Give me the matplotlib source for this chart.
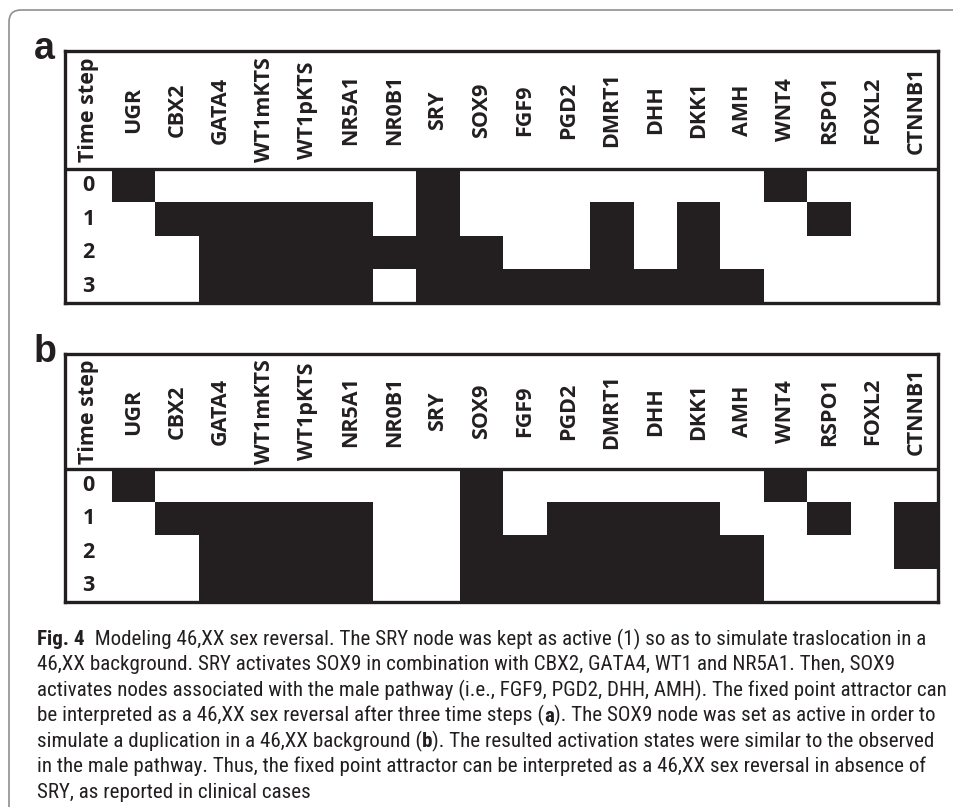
import numpy as np
import matplotlib
matplotlib.use("Agg")
import matplotlib.pyplot as plt
from matplotlib import font_manager
from matplotlib.font_manager import FontProperties
from matplotlib.colors import ListedColormap
from matplotlib.patches import FancyBboxPatch

W, H = 954, 807

genes = ["UGR", "CBX2", "GATA4", "WT1mKTS", "WT1pKTS", "NR5A1", "NR0B1", "SRY",
         "SOX9", "FGF9", "PGD2", "DMRT1", "DHH", "DKK1", "AMH", "WNT4", "RSPO1",
         "FOXL2", "CTNNB1"]
steps = ["0", "1", "2", "3"]

# node states per time step (1 = active), SRY kept active
states_sry = [
    [1, 0, 0, 0, 0, 0, 0, 1, 0, 0, 0, 0, 0, 0, 0, 1, 0, 0, 0],
    [0, 1, 1, 1, 1, 1, 0, 1, 0, 0, 0, 1, 0, 1, 0, 0, 1, 0, 0],
    [0, 0, 1, 1, 1, 1, 1, 1, 1, 0, 0, 1, 0, 1, 0, 0, 0, 0, 0],
    [0, 0, 1, 1, 1, 1, 0, 1, 1, 1, 1, 1, 1, 1, 1, 0, 0, 0, 0],
]
# SOX9 duplication
states_sox9 = [
    [1, 0, 0, 0, 0, 0, 0, 0, 1, 0, 0, 0, 0, 0, 0, 1, 0, 0, 0],
    [0, 1, 1, 1, 1, 1, 0, 0, 1, 0, 1, 1, 1, 1, 0, 0, 1, 0, 1],
    [0, 0, 1, 1, 1, 1, 0, 0, 1, 1, 1, 1, 1, 1, 1, 0, 0, 0, 1],
    [0, 0, 1, 1, 1, 1, 0, 0, 1, 1, 1, 1, 1, 1, 1, 0, 0, 0, 0],
]

caption = [
    [("Fig. 4", True), ("  Modeling 46,XX sex reversal. The SRY node was kept as active (1) so as to simulate traslocation in a", False)],
    [("46,XX background. SRY activates SOX9 in combination with CBX2, GATA4, WT1 and NR5A1. Then, SOX9", False)],
    [("activates nodes associated with the male pathway (i.e., FGF9, PGD2, DHH, AMH). The fixed point attractor can", False)],
    [("be interpreted as a 46,XX sex reversal after three time steps (", False), ("a", True),
     ("). The SOX9 node was set as active in order to", False)],
    [("simulate a duplication in a 46,XX background (", False), ("b", True),
     ("). The resulted activation states were similar to the observed", False)],
    [("in the male pathway. Thus, the fixed point attractor can be interpreted as a 46,XX sex reversal in absence of", False)],
    [("SRY, as reported in clinical cases", False)],
]

ink = "#231f20"
head_font = "Open Sans"


def weight_num(w):
    if isinstance(w, str):
        return font_manager.weight_dict.get(w, 400)
    return w


def narrow_face(bold):
    # pick a condensed sans face for the caption, falling back to Lato
    want = 700 if bold else 400
    order = ["Roboto Condensed", "Open Sans Condensed", "Noto Sans", "DejaVu Sans", "Roboto", "Open Sans"]
    found = {}
    for f in font_manager.fontManager.ttflist:
        narrow = f.stretch in ("condensed", "semi-condensed") or "Condensed" in f.name or "Narrow" in f.name
        if narrow and f.style == "normal" and weight_num(f.weight) == want:
            found.setdefault(f.name, f.fname)
    for name in order:
        if name in found:
            return FontProperties(fname=found[name])
    if found:
        return FontProperties(fname=sorted(found.values())[0])
    return FontProperties(family="Lato", weight="bold" if bold else "normal")


cap_regular = narrow_face(False)
cap_bold = narrow_face(True)

fig = plt.figure(figsize=(W / 100, H / 100), dpi=100)

# page frame with a rounded top-left corner
frame = FancyBboxPatch((9, -60), 1100, H - 10 + 60, boxstyle="round,pad=0,rounding_size=12",
                       transform=None, fill=False, edgecolor="#8f8f8f", lw=1.2)
fig.patches.append(frame)


def panel(box, header_h, states, letter):
    x0, y0, x1, y1 = box
    time_w = 47
    col_w = (x1 - x0 - time_w) / len(genes)
    row_h = (y1 - y0 - header_h) / len(steps)
    left = -time_w / col_w
    top = -header_h / row_h

    ax = fig.add_axes([x0 / W, 1 - y1 / H, (x1 - x0) / W, (y1 - y0) / H])
    ax.imshow(np.array(states), cmap=ListedColormap(["white", ink]), vmin=0, vmax=1,
              extent=(0, len(genes), len(steps), 0), interpolation="nearest", aspect="auto")
    ax.set_xlim(left, len(genes))
    ax.set_ylim(len(steps), top)
    ax.axhline(0, color=ink, lw=2.4)
    for s in ax.spines.values():
        s.set_linewidth(2.4)
        s.set_color(ink)
    ax.set_xticks([])
    ax.set_yticks([])

    for i, g in enumerate(genes):
        ax.text(i + 0.5, top / 2, g, rotation=90, ha="center", va="center",
                fontsize=15.5, fontweight="bold", family=head_font, color=ink)
    ax.text(left / 2, top / 2, "Time step", rotation=90, ha="center", va="center",
            fontsize=15.5, fontweight="bold", family=head_font, color=ink)
    for j, s in enumerate(steps):
        ax.text(left / 2, j + 0.5, s, ha="center", va="center",
                fontsize=15.5, fontweight="bold", family=head_font, color=ink)

    fig.text(34 / W, 1 - (y0 + 8) / H, letter, fontsize=27, fontweight="bold",
             family="Liberation Sans", color=ink, va="baseline")


panel((65, 51, 938, 303), 118, states_sry, "a")
panel((65, 354, 938, 602), 115, states_sox9, "b")

# caption, sized so the longest line fills the text block
renderer = fig.canvas.get_renderer()
probe = fig.text(0, 0, caption[2][0][0], fontproperties=cap_regular, fontsize=14)
size = 14 * 915 / probe.get_window_extent(renderer).width
probe.remove()

for k, parts in enumerate(caption):
    x = 37
    y = 645 + 25.5 * k
    for s, bold in parts:
        t = fig.text(x / W, 1 - y / H, s, fontproperties=cap_bold if bold else cap_regular,
                     fontsize=size, color=ink, va="baseline")
        x += t.get_window_extent(renderer).width

fig.savefig("out.png", dpi=100)
